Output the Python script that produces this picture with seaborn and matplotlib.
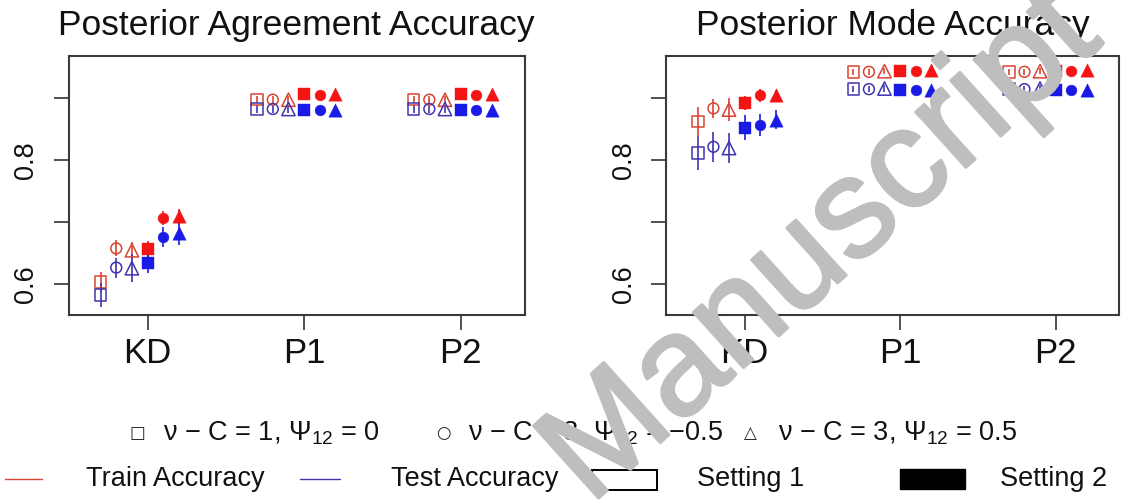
import matplotlib
matplotlib.use("Agg")
import numpy as np
import pandas as pd
import matplotlib.pyplot as plt
import matplotlib.patheffects as pe
import seaborn as sns
from matplotlib.lines import Line2D
from matplotlib.patches import Rectangle

# ---------------- data ----------------
categories = ["KD", "P1", "P2"]
priors = ["square", "circle", "triangle"]
titles = ["Posterior Agreement Accuracy", "Posterior Mode Accuracy"]

# rows = prior (square, circle, triangle); cols = KD, P1, P2
agree_train_s1 = [[0.603, 0.897, 0.897], [0.657, 0.897, 0.897], [0.654, 0.897, 0.897]]
agree_test_s1 = [[0.582, 0.882, 0.882], [0.626, 0.882, 0.882], [0.625, 0.882, 0.882]]
agree_train_s2 = [[0.656, 0.906, 0.906], [0.706, 0.905, 0.905], [0.709, 0.906, 0.906]]
agree_test_s2 = [[0.633, 0.881, 0.881], [0.676, 0.881, 0.881], [0.682, 0.881, 0.881]]
agree_err_train_s1 = [[0.016, 0.006, 0.006], [0.013, 0.006, 0.006], [0.014, 0.006, 0.006]]
agree_err_test_s1 = [[0.019, 0.006, 0.006], [0.016, 0.006, 0.006], [0.023, 0.006, 0.006]]
agree_err_train_s2 = [[0.013, 0.005, 0.005], [0.012, 0.005, 0.005], [0.012, 0.005, 0.005]]
agree_err_test_s2 = [[0.016, 0.005, 0.005], [0.016, 0.005, 0.005], [0.020, 0.005, 0.005]]

mode_train_s1 = [[0.862, 0.942, 0.942], [0.883, 0.942, 0.942], [0.881, 0.943, 0.943]]
mode_test_s1 = [[0.811, 0.914, 0.914], [0.821, 0.914, 0.914], [0.819, 0.915, 0.915]]
mode_train_s2 = [[0.892, 0.943, 0.943], [0.904, 0.943, 0.943], [0.905, 0.945, 0.945]]
mode_test_s2 = [[0.852, 0.912, 0.912], [0.856, 0.912, 0.912], [0.865, 0.913, 0.913]]
mode_err_train_s1 = [[0.023, 0.005, 0.005], [0.015, 0.005, 0.005], [0.018, 0.005, 0.005]]
mode_err_test_s1 = [[0.027, 0.005, 0.005], [0.024, 0.005, 0.005], [0.024, 0.005, 0.005]]
mode_err_train_s2 = [[0.011, 0.005, 0.005], [0.010, 0.005, 0.005], [0.008, 0.005, 0.005]]
mode_err_test_s2 = [[0.020, 0.005, 0.005], [0.018, 0.005, 0.005], [0.015, 0.005, 0.005]]

legend_shapes = ["ν − C = 1, Ψ$_{12}$ = 0", "ν − C = 3, Ψ$_{12}$ = −0.5", "ν − C = 3, Ψ$_{12}$ = 0.5"]
legend_items = ["Train Accuracy", "Test Accuracy", "Setting 1", "Setting 2"]
watermark = "Manuscript"

# ---------------- build table ----------------
panel_data = {
    0: {(1, "train"): (agree_train_s1, agree_err_train_s1), (1, "test"): (agree_test_s1, agree_err_test_s1),
        (2, "train"): (agree_train_s2, agree_err_train_s2), (2, "test"): (agree_test_s2, agree_err_test_s2)},
    1: {(1, "train"): (mode_train_s1, mode_err_train_s1), (1, "test"): (mode_test_s1, mode_err_test_s1),
        (2, "train"): (mode_train_s2, mode_err_train_s2), (2, "test"): (mode_test_s2, mode_err_test_s2)},
}
rows = []
for panel, d in panel_data.items():
    for (setting, split), (vals, errs) in d.items():
        for pi, prior in enumerate(priors):
            for ci, cat in enumerate(categories):
                rows.append(dict(panel=panel, setting=setting, split=split, prior=prior, pidx=pi,
                                 cat=cat, cidx=ci, value=vals[pi][ci], err=errs[pi][ci]))
df = pd.DataFrame(rows)
df["x"] = df["cidx"] + 1 - 0.3 + 0.1 * ((df["setting"] - 1) * 3 + df["pidx"])

# ---------------- style ----------------
sns.set_style("ticks")
plt.rcParams["font.family"] = ["Liberation Sans", "DejaVu Sans"]
plt.rcParams["mathtext.fontset"] = "custom"
plt.rcParams["mathtext.rm"] = "Liberation Sans"
plt.rcParams["mathtext.it"] = "Liberation Sans:italic"

W, H = 1126, 500
fig = plt.figure(figsize=(W / 100, H / 100), dpi=100)

def fx(x):
    return x / W

def fy(y):
    return 1 - y / H

RED = "#f41414"
BLUE = "#1a1ae6"
RED_OPEN = "#d94433"
BLUE_OPEN = "#4034b0"
markers = {"square": "s", "circle": "o", "triangle": "^"}
sizes = {"square": 8.3 ** 2, "circle": 7.8 ** 2, "triangle": 9.6 ** 2}

axes_px = [(68.5, 524.5), (666.0, 1119.0)]
top_px, bot_px = 55.7, 315.0
for panel, (x0, x1) in enumerate(axes_px):
    ax = fig.add_axes([fx(x0), fy(bot_px), (x1 - x0) / W, (bot_px - top_px) / H])
    sub_panel = df[df.panel == panel]
    for (setting, prior, split), sub in sub_panel.groupby(["setting", "prior", "split"], sort=False):
        if setting == 1:
            col = RED_OPEN if split == "train" else BLUE_OPEN
        else:
            col = RED if split == "train" else BLUE
        ax.vlines(sub["x"], sub["value"] - sub["err"], sub["value"] + sub["err"],
                  colors=col, linewidth=1.2, zorder=2)
        if setting == 1:
            sns.scatterplot(data=sub, x="x", y="value", marker=markers[prior], s=sizes[prior],
                            facecolor="none", edgecolor=col, linewidth=1.1, ax=ax, legend=False, zorder=3)
        else:
            sns.scatterplot(data=sub, x="x", y="value", marker=markers[prior], s=sizes[prior],
                            color=col, edgecolor=col, linewidth=0.3, ax=ax, legend=False, zorder=3)
    ax.set_xlim(0.495, 3.408)
    ax.set_ylim(0.5495, 0.968)
    ax.set_xticks([1, 2, 3])
    ax.set_xticklabels(categories, fontsize=25)
    ax.set_yticks([0.6, 0.7, 0.8, 0.9])
    ax.set_yticklabels(["0.6", "", "0.8", ""], fontsize=19.5, rotation=90, va="center")
    ax.set_xlabel("")
    ax.set_ylabel("")
    ax.tick_params(axis="both", direction="out", length=11, width=1.2, colors="#333333",
                   labelcolor="#111111")
    ax.tick_params(axis="x", pad=5)
    ax.tick_params(axis="y", pad=10)
    for sp in ax.spines.values():
        sp.set_visible(True)
        sp.set_color("#3a3a3a")
        sp.set_linewidth(1.5)
    ax.set_facecolor("white")
    fig.text(fx((x0 + x1) / 2), fy(35), titles[panel], fontsize=25.5, ha="center", va="baseline",
             color="#111111")

# ---------------- legend row 1 ----------------
sym_font = ["DejaVu Sans"]
row1_y = fy(433)
sym_x = [137, 443, 750]
txt_x = [163, 468, 778]
for s, sx, tx, lab in zip(["□", "○", "△"], sym_x, txt_x, legend_shapes):
    fig.text(fx(sx), row1_y, s, fontsize=12, ha="center", va="center", family=sym_font, color="#222222")
    fig.text(fx(tx), row1_y, lab, fontsize=19.5, ha="left", va="center", color="#111111")

# ---------------- legend row 2 ----------------
row2_y = fy(479)
fig.add_artist(Line2D([fx(5), fx(42)], [row2_y, row2_y], color=RED_OPEN, linewidth=1.0, transform=fig.transFigure))
fig.add_artist(Line2D([fx(300), fx(340)], [row2_y, row2_y], color=BLUE_OPEN, linewidth=1.0, transform=fig.transFigure))
fig.add_artist(Rectangle((fx(592), fy(490)), (657 - 592) / W, 20 / H, facecolor="white",
                         edgecolor="black", linewidth=1.4, transform=fig.transFigure))
fig.add_artist(Rectangle((fx(900), fy(489)), (965 - 900) / W, 20 / H, facecolor="black",
                         edgecolor="black", linewidth=1.0, transform=fig.transFigure))
for tx, lab in zip([86, 391, 697, 1000], legend_items):
    fig.text(fx(tx), row2_y, lab, fontsize=19.5, ha="left", va="center", color="#111111")

# ---------------- watermark ----------------
wm_col = "#bebebe"
fig.text(fx(590), fy(506), watermark, fontsize=102, fontweight="normal", color=wm_col,
         rotation=42, rotation_mode="anchor", ha="left", va="baseline", zorder=10,
         path_effects=[pe.withStroke(linewidth=2, foreground=wm_col)])

fig.savefig("out.png", dpi=100, facecolor="white")
